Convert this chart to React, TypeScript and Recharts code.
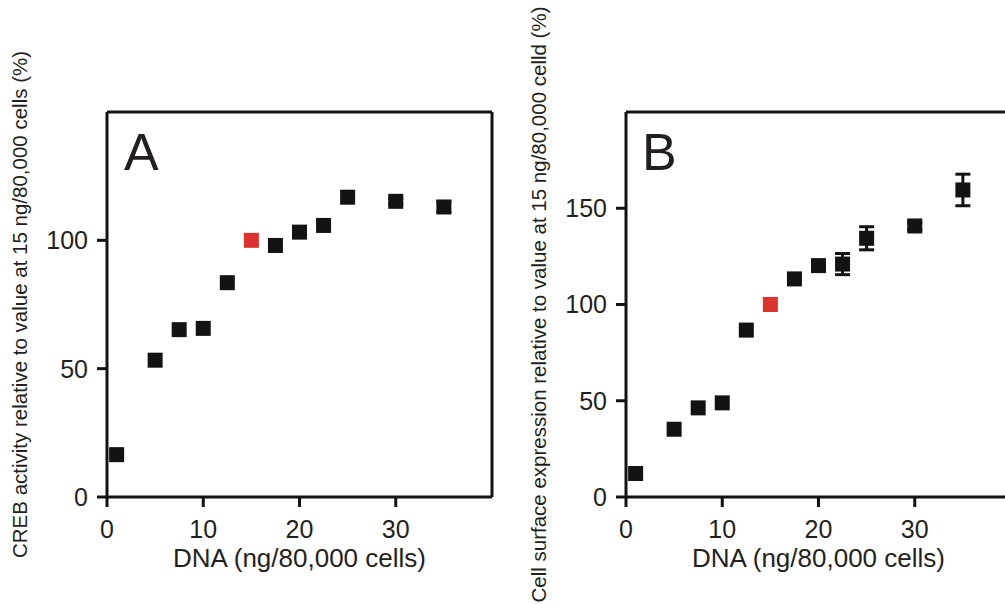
import { ScatterChart, Scatter, XAxis, YAxis, ErrorBar, ReferenceLine } from 'recharts';

// DNA dose (ng/80,000 cells), same doses in both panels
const doses = [1, 5, 7.5, 10, 12.5, 15, 17.5, 20, 22.5, 25, 30, 35];

// Panel A: CREB activity (% of value at 15 ng)
const crebActivity = [16.5, 53.3, 65.2, 65.7, 83.5, 100, 98, 103.2, 105.8, 116.8, 115.2, 113];
const crebError = [0, 0, 0, 0, 0, 0, 0, 0, 0, 0, 1, 2];

// Panel B: cell surface expression (% of value at 15 ng)
const surfaceExpression = [12.2, 35.2, 46.3, 48.9, 86.7, 100, 113.3, 120.2, 121, 134.4, 140.8, 159.5];
const surfaceError = [0, 0, 0, 0, 0, 0, 0, 0, 5.5, 6, 2, 8.2];

const xTicks = [0, 10, 20, 30];
const yTicksA = [0, 50, 100];
const yTicksB = [0, 50, 100, 150];

const REFERENCE_DOSE = 15;
const INK = '#131313';
const TEXT = '#231f20';
const RED = '#db3330';
const FONT = '"Liberation Sans", Arial, Helvetica, sans-serif';
const MARKER = 15;

// filled square centred on the point, red for the reference dose
function SquareMarker(props: any) {
  const { cx, cy, payload } = props;
  if (cx == null || cy == null) return null;
  const fill = payload && payload.x === REFERENCE_DOSE ? RED : INK;
  return <rect x={cx - MARKER / 2} y={cy - MARKER / 2} width={MARKER} height={MARKER} fill={fill} />;
}

interface PanelProps {
  letter: string;
  values: number[];
  errors: number[];
  yMax: number;
  yTicks: number[];
  yLabel: string;
  left: number;
}

function Panel({ letter, values, errors, yMax, yTicks, yLabel, left }: PanelProps) {
  const data = doses.map((x, i) => ({ x, y: values[i], err: errors[i] }));
  const axisLine = { stroke: INK, strokeWidth: 3 };
  const tick = { fontSize: 25, fill: TEXT, fontFamily: FONT };

  return (
    <div style={{ position: 'absolute', left, top: 0 }}>
      <ScatterChart width={500} height={604} margin={{ top: 112, right: 8, bottom: 37, left: 20 }}>
        <XAxis
          type="number"
          dataKey="x"
          domain={[0, 40]}
          ticks={xTicks}
          allowDataOverflow
          height={70}
          tickSize={10}
          tickMargin={13}
          fontSize={25}
          tick={tick}
          axisLine={axisLine}
          tickLine={axisLine}
          label={{ value: 'DNA (ng/80,000 cells)', position: 'insideBottom', offset: 0, fontSize: 26, fill: TEXT, fontFamily: FONT }}
        />
        <YAxis
          type="number"
          dataKey="y"
          domain={[0, yMax]}
          ticks={yTicks}
          allowDataOverflow
          width={87}
          tickSize={10}
          tickMargin={9}
          fontSize={25}
          tick={tick}
          axisLine={axisLine}
          tickLine={axisLine}
          label={{
            value: yLabel,
            angle: -90,
            position: 'insideLeft',
            offset: 0,
            fontSize: 20.5,
            fill: TEXT,
            fontFamily: FONT,
            style: { textAnchor: 'middle' },
          }}
        />
        <ReferenceLine y={yMax} stroke={INK} strokeWidth={3} />
        <ReferenceLine x={40} stroke={INK} strokeWidth={3} />
        <Scatter data={data} shape={SquareMarker} fill={INK} isAnimationActive={false}>
          <ErrorBar dataKey="err" direction="y" width={7.5} stroke={INK} strokeWidth={3} />
        </Scatter>
      </ScatterChart>
      {/* Panel letter */}
      <div
        style={{
          position: 'absolute',
          left: letter === 'A' ? 124 : 123,
          top: 126,
          fontSize: 52,
          lineHeight: 1,
          fontFamily: FONT,
          color: TEXT,
        }}
      >
        {letter}
      </div>
    </div>
  );
}

export default function App() {
  return (
    <div style={{ position: 'absolute', left: 0, top: 0, width: 1005, height: 604, overflow: 'hidden', background: '#fff' }}>
      <Panel
        letter="A"
        values={crebActivity}
        errors={crebError}
        yMax={150}
        yTicks={yTicksA}
        yLabel="CREB activity relative to value at 15 ng/80,000 cells (%)"
        left={0}
      />
      <Panel
        letter="B"
        values={surfaceExpression}
        errors={surfaceError}
        yMax={200}
        yTicks={yTicksB}
        yLabel="Cell surface expression relative to value at 15 ng/80,000 celld (%)"
        left={519}
      />
    </div>
  );
}
